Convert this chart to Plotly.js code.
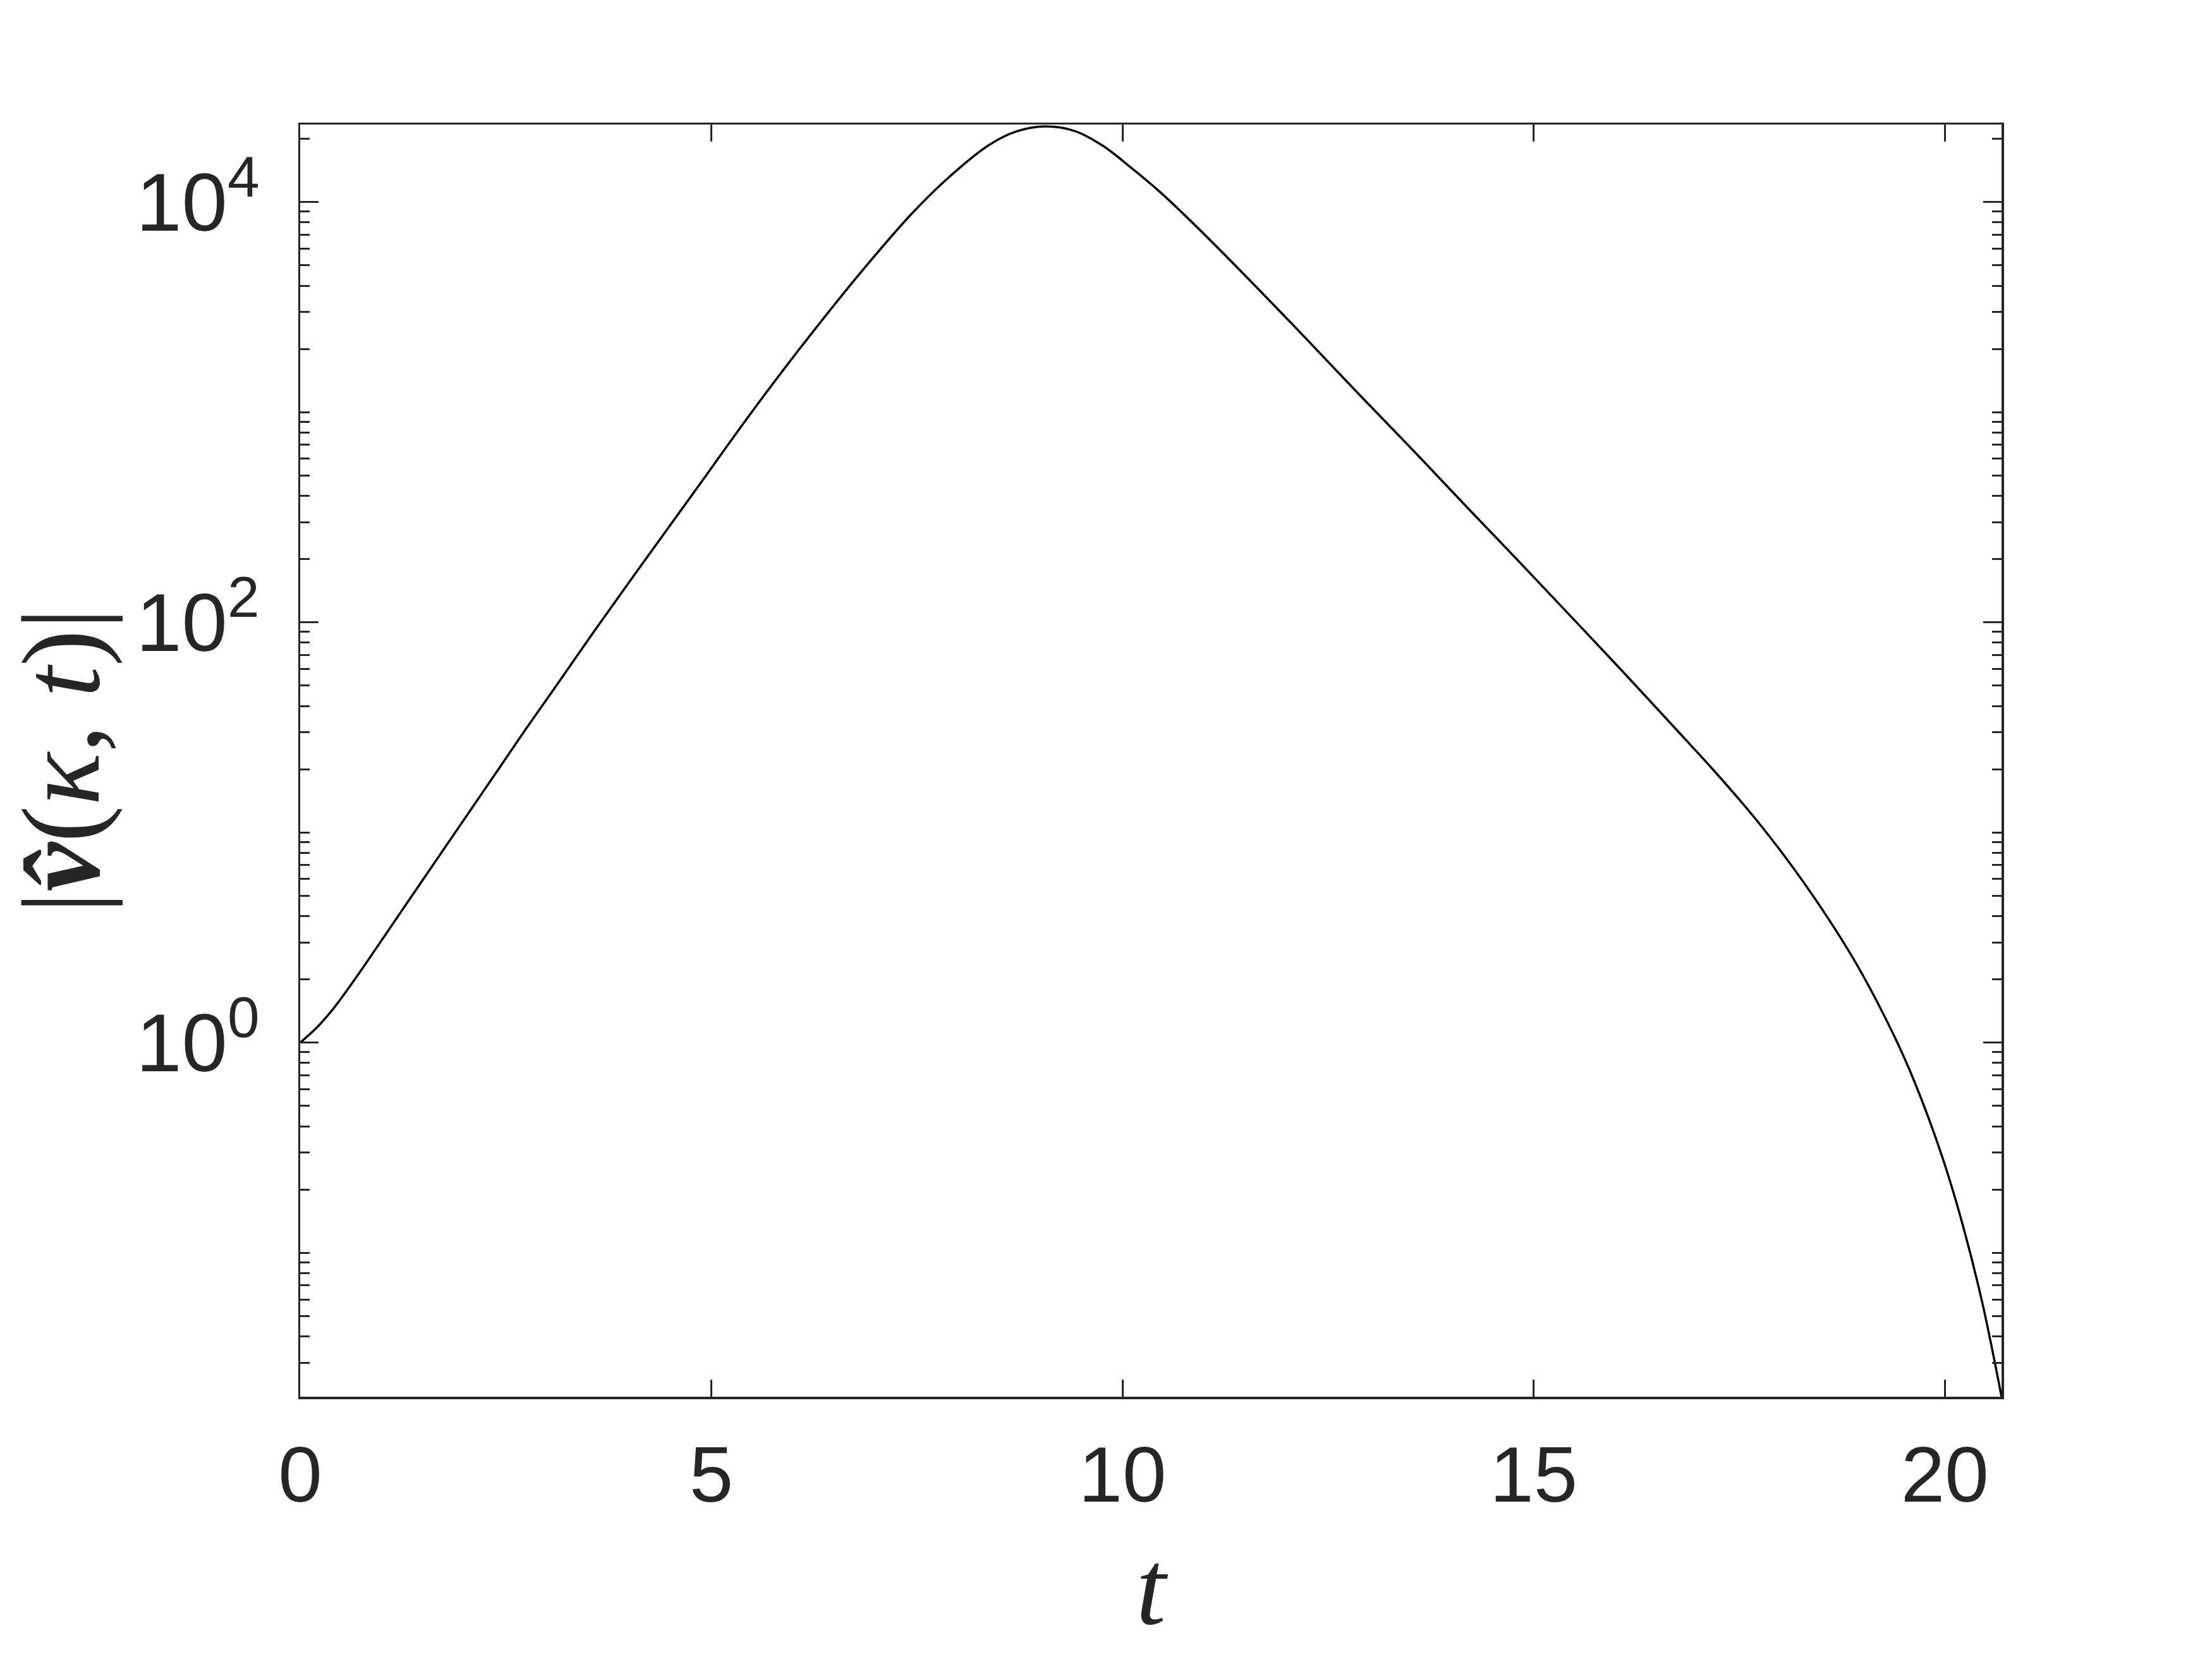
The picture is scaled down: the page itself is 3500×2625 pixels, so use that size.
<!DOCTYPE html>
<html>
<head>
<meta charset="utf-8">
<script src="https://cdn.plot.ly/plotly-3.0.1.min.js"></script>
<style>html,body{margin:0;padding:0;background:#fff;}#chart{width:3500px;height:2625px;}</style>
</head>
<body>
<div id="chart"></div>
<script>
// time t
const tValues = [0, 0.21, 0.41, 0.68, 1.03, 1.37, 1.71, 2.06, 2.40, 2.74, 3.09, 3.57, 4.20, 4.80, 5.49, 6.18, 6.86, 7.45, 7.88, 8.37, 8.70, 9.06, 9.42, 9.76, 10.10, 10.45, 10.79, 11.48, 12.16, 12.84, 13.53, 14.22, 14.71, 15.40, 16.09, 16.77, 17.18, 17.67, 18.16, 18.65, 18.99, 19.38, 19.63, 19.97, 20.22, 20.46, 20.69];
// |v_hat(kappa, t)|
const vValues = [1, 1.189, 1.462, 2.042, 3.236, 5.070, 7.943, 12.59, 19.72, 30.90, 48.42, 90.16, 199.5, 421.7, 1000, 2265, 4842, 8913, 13030, 18620, 21630, 22910, 21780, 18535, 14620, 11220, 8414, 4519, 2399, 1259, 660.7, 342.8, 216.3, 112.2, 57.94, 29.85, 19.95, 11.97, 6.761, 3.548, 2.138, 1.084, 0.6531, 0.2851, 0.1349, 0.05689, 0.02065];
// tick labels
const yTickVals = [1, 100, 10000];
const yTickText = ["10<sup>0</sup>", "10<sup>2</sup>", "10<sup>4</sup>"];
const xTickVals = [0, 5, 10, 15, 20];
const xTickText = ["0", "5", "10", "15", "20"];

const minorVals = [];
for (let e = -2; e <= 4; e++) {
  for (let k = 1; k <= 9; k++) {
    const v = k * Math.pow(10, e);
    if (v >= 0.02 && v <= 25000 && yTickVals.indexOf(v) < 0) minorVals.push(v);
  }
}

const axisColor = '#262626';

const trace = {
  x: tValues, y: vValues, type: 'scatter', mode: 'lines',
  line: {color: '#000000', width: 3.5, shape: 'spline', smoothing: 1},
  hoverinfo: 'skip'
};

const layout = {
  width: 3500, height: 2625,
  paper_bgcolor: '#ffffff', plot_bgcolor: '#ffffff',
  margin: {l: 475, r: 333, t: 197, b: 415, pad: 0},
  showlegend: false,
  font: {family: 'Liberation Sans, Arial, sans-serif', color: axisColor, size: 125},
  xaxis: {
    range: [0, 20.69], tickmode: 'array', tickvals: xTickVals, ticktext: xTickText,
    ticks: 'inside', ticklen: 27, tickwidth: 3, tickcolor: axisColor,
    showline: true, linecolor: axisColor, linewidth: 3.5, mirror: 'ticks',
    showgrid: false, zeroline: false,
    tickfont: {size: 125, color: axisColor, family: 'Liberation Sans, Arial, sans-serif'},
    ticklabelstandoff: 12,
    title: {text: '<i>t</i>', font: {family: 'Liberation Serif, serif', size: 170, color: axisColor}, standoff: 50}
  },
  yaxis: {
    type: 'log', range: [-1.685, 4.369],
    tickmode: 'array', tickvals: yTickVals, ticktext: yTickText,
    ticks: 'inside', ticklen: 29, tickwidth: 3, tickcolor: axisColor,
    minor: {tickmode: 'array', tickvals: minorVals, ticks: 'inside', ticklen: 15, tickwidth: 3, tickcolor: axisColor, showgrid: false},
    showline: true, linecolor: axisColor, linewidth: 3.5, mirror: 'ticks',
    showgrid: false, zeroline: false,
    tickfont: {size: 130, color: axisColor, family: 'Liberation Sans, Arial, sans-serif'},
    ticklabelstandoff: 35,
    title: {text: '|<b><i>v̂</i></b>(<i>κ</i>, <i>t</i>)|', font: {family: 'Liberation Serif, serif', size: 175, color: axisColor}, standoff: 45}
  }
};

Plotly.newPlot('chart', [trace], layout, {displayModeBar: false, staticPlot: true});
</script>
</body>
</html>
